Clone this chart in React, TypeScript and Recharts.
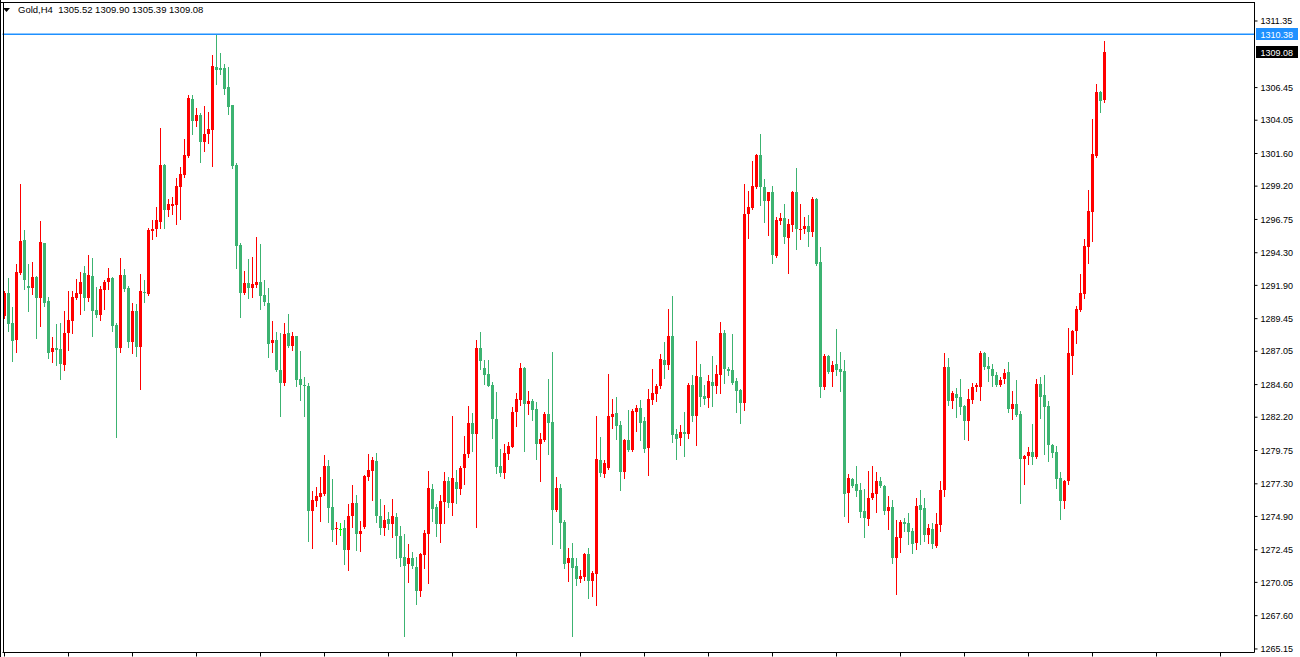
import React from 'react';
import { ComposedChart, Bar, XAxis, YAxis, ReferenceLine } from 'recharts';

const SYMBOL = 'Gold,H4';

const OPEN = [
1289.65,1291.33,1289.13,1287.87,1292.79,1295.23,1291.85,1291.73,1292.51,1290.99,
1295.00,1290.74,1286.99,1287.30,1287.22,1286.07,1288.36,1289.27,1290.94,1291.25,
1292.79,1290.96,1292.59,1290.08,1289.73,1291.56,1292.14,1292.45,1289.02,1287.30,
1292.65,1291.73,1287.73,1290.02,1287.36,1291.42,1291.25,1295.92,1296.06,1296.58,
1300.75,1297.41,1297.75,1297.81,1299.15,1300.04,1301.41,1305.62,1303.99,1304.44,
1302.44,1303.01,1303.33,1307.97,1307.91,1307.91,1306.48,1305.16,1300.75,1294.86,
1291.36,1292.08,1291.73,1291.94,1292.14,1291.19,1290.59,1287.65,1287.87,1285.67,
1284.75,1288.39,1287.47,1288.16,1285.01,1284.58,1284.52,1275.33,1276.04,1276.36,
1276.56,1278.60,1275.59,1273.96,1274.01,1274.04,1272.41,1274.90,1275.87,1273.61,
1274.13,1277.83,1278.26,1279.00,1274.93,1274.07,1274.70,1274.33,1274.87,1273.47,
1271.90,1271.41,1271.84,1271.18,1269.44,1272.07,1273.61,1276.90,1275.59,1274.36,
1275.99,1277.54,1275.90,1277.42,1276.93,1278.43,1279.46,1281.77,1281.00,1287.30,
1285.81,1285.38,1284.55,1282.09,1278.60,1278.11,1279.51,1280.03,1282.55,1283.49,
1285.81,1283.15,1283.41,1282.77,1280.26,1280.52,1282.43,1281.83,1275.36,1276.99,
1274.50,1271.47,1271.84,1271.24,1270.32,1270.47,1272.13,1270.18,1270.69,1279.06,
1278.00,1278.49,1282.23,1282.52,1281.63,1278.20,1280.52,1279.77,1282.60,1282.86,
1281.92,1279.97,1283.49,1283.92,1284.46,1286.41,1286.07,1288.16,1280.97,1280.69,
1281.12,1281.00,1284.55,1282.32,1285.15,1283.75,1283.63,1284.78,1284.52,1285.33,
1288.39,1285.78,1285.67,1284.86,1284.20,1283.26,1297.12,1297.58,1299.10,1301.50,
1299.10,1298.12,1298.75,1294.06,1296.66,1296.86,1295.40,1296.32,1298.78,1296.01,
1296.04,1296.26,1295.86,1298.27,1293.60,1284.43,1286.70,1285.55,1286.10,1285.75,
1285.58,1276.64,1277.62,1277.25,1276.82,1275.27,1274.73,1276.27,1276.56,1277.54,
1277.16,1275.30,1275.59,1271.87,1273.33,1274.47,1274.41,1273.84,1272.96,1275.73,
1275.50,1273.56,1273.96,1272.75,1274.27,1276.85,1285.90,1283.41,1283.89,1283.69,
1283.03,1281.95,1283.46,1284.43,1284.43,1286.93,1285.95,1285.75,1285.29,1284.58,
1285.01,1285.52,1282.83,1283.17,1282.43,1279.14,1279.34,1279.63,1279.29,1284.63,
1283.83,1283.03,1280.17,1279.63,1277.71,1276.04,1277.51,1286.73,1288.56,1290.08,
1291.25,1294.75,1297.32,1301.39,1306.14,1305.52,
];

const HIGH = [
1291.51,1292.45,1290.31,1293.48,1299.35,1295.98,1293.48,1293.62,1292.60,1296.63,
1295.05,1291.05,1288.10,1289.05,1289.13,1290.02,1291.48,1291.48,1292.36,1292.88,
1293.31,1294.15,1293.91,1291.76,1291.85,1292.28,1293.17,1292.50,1289.16,1293.91,
1293.11,1291.85,1290.59,1290.53,1292.77,1292.28,1296.09,1296.72,1297.67,1303.47,
1300.84,1298.27,1298.41,1299.81,1300.61,1302.67,1305.91,1305.91,1304.96,1304.59,
1305.11,1304.65,1308.86,1310.37,1309.00,1308.20,1307.97,1305.20,1300.87,1295.00,
1292.97,1293.82,1293.97,1295.46,1294.95,1292.28,1291.70,1289.27,1288.47,1288.39,
1289.13,1289.79,1288.47,1288.20,1287.07,1285.15,1284.72,1276.76,1277.05,1277.80,
1279.43,1279.06,1277.65,1274.47,1274.41,1274.61,1275.85,1277.22,1276.50,1274.56,
1277.97,1279.49,1279.29,1279.60,1276.19,1275.76,1275.21,1276.19,1275.13,1274.19,
1273.59,1272.90,1272.27,1271.90,1272.24,1273.90,1278.26,1277.31,1275.79,1276.50,
1278.17,1277.83,1282.29,1278.32,1278.63,1280.80,1283.00,1282.52,1287.87,1288.47,
1286.41,1286.41,1284.78,1284.03,1279.86,1280.23,1280.37,1282.95,1283.97,1286.18,
1285.90,1284.12,1283.55,1283.32,1281.03,1282.57,1285.01,1286.99,1277.80,1277.28,
1274.61,1272.56,1272.93,1271.84,1270.95,1272.24,1272.56,1270.89,1282.29,1280.74,
1279.06,1285.38,1283.52,1283.69,1281.92,1280.63,1282.72,1282.80,1283.09,1283.46,
1282.20,1284.26,1285.75,1284.66,1286.84,1287.73,1290.19,1291.11,1281.32,1281.63,
1282.57,1284.72,1285.29,1287.82,1286.10,1284.55,1285.29,1286.70,1286.04,1289.19,
1288.62,1285.90,1288.33,1285.06,1284.29,1299.35,1298.84,1301.04,1301.55,1303.04,
1299.72,1298.80,1299.21,1296.92,1297.23,1297.90,1296.75,1298.84,1300.53,1297.90,
1296.92,1297.06,1298.41,1298.32,1294.72,1286.84,1286.75,1286.33,1288.70,1287.02,
1286.41,1278.03,1277.71,1278.60,1277.36,1276.90,1278.26,1278.60,1278.17,1277.80,
1277.22,1276.39,1276.10,1274.64,1274.64,1274.79,1275.13,1274.04,1276.25,1276.85,
1276.25,1274.33,1274.41,1275.13,1277.51,1286.93,1286.56,1284.15,1284.35,1285.01,
1283.12,1284.26,1284.72,1284.72,1287.07,1287.02,1286.61,1286.13,1285.52,1285.15,
1285.75,1286.27,1284.12,1284.92,1282.66,1279.43,1280.00,1281.69,1285.01,1285.15,
1285.29,1283.41,1280.23,1280.09,1278.17,1277.57,1288.76,1288.64,1290.39,1292.74,
1295.32,1298.92,1304.13,1306.71,1306.20,1309.90,
];

const LOW = [
1289.50,1288.56,1286.33,1286.99,1292.70,1291.65,1290.05,1291.28,1288.02,1288.90,
1290.39,1286.56,1286.27,1286.07,1285.01,1285.70,1287.13,1288.39,1290.91,1289.79,
1290.08,1290.74,1288.16,1289.56,1289.36,1290.16,1291.62,1288.56,1280.74,1286.99,
1291.45,1287.36,1286.93,1286.70,1284.29,1290.68,1291.20,1295.32,1295.52,1296.09,
1296.12,1297.00,1297.15,1296.41,1296.78,1299.87,1301.36,1303.07,1303.61,1300.98,
1301.79,1302.36,1300.67,1306.71,1307.45,1305.97,1304.53,1300.55,1293.20,1289.59,
1291.28,1290.99,1291.08,1291.79,1290.19,1290.42,1286.64,1287.02,1285.58,1282.32,
1284.58,1287.33,1287.16,1284.52,1283.49,1282.32,1273.10,1272.61,1275.67,1274.58,
1276.50,1274.50,1273.10,1272.90,1273.50,1271.41,1270.98,1274.13,1272.44,1272.38,
1274.07,1277.57,1276.13,1274.50,1273.61,1273.56,1273.99,1273.36,1271.81,1271.24,
1266.14,1270.06,1271.07,1268.49,1269.04,1271.07,1269.98,1274.56,1273.47,1273.04,
1274.44,1275.56,1275.01,1275.90,1276.56,1277.31,1279.29,1279.69,1274.13,1285.73,
1284.66,1284.49,1280.66,1278.11,1277.91,1277.74,1279.09,1279.98,1281.57,1283.12,
1279.74,1282.46,1282.03,1279.14,1277.54,1280.46,1279.51,1272.90,1275.30,1272.58,
1271.12,1270.18,1266.14,1269.89,1270.04,1270.21,1268.92,1269.06,1268.40,1277.89,
1277.83,1278.40,1281.43,1280.63,1276.87,1277.71,1279.71,1279.71,1281.20,1280.49,
1279.66,1277.97,1283.20,1283.41,1284.35,1285.09,1285.78,1280.40,1279.14,1280.12,
1279.37,1280.69,1281.95,1280.17,1283.03,1283.17,1282.98,1283.03,1284.00,1284.00,
1284.75,1285.33,1284.63,1282.60,1281.80,1282.75,1295.40,1297.52,1299.05,1297.84,
1296.58,1295.63,1293.51,1294.00,1296.38,1295.03,1292.82,1295.92,1294.60,1295.32,
1295.77,1294.81,1295.54,1293.40,1283.72,1284.29,1285.47,1284.52,1285.33,1284.15,
1274.96,1274.47,1277.05,1276.39,1274.84,1273.41,1274.30,1276.20,1275.24,1277.05,
1275.07,1273.96,1271.50,1269.21,1272.30,1273.81,1272.90,1272.24,1272.53,1272.90,
1273.10,1272.96,1272.58,1272.64,1273.84,1276.42,1283.09,1282.89,1282.23,1282.46,
1280.60,1280.49,1283.23,1284.15,1283.49,1285.78,1284.89,1284.49,1284.49,1284.49,
1284.72,1282.55,1282.06,1282.32,1275.90,1277.31,1278.77,1278.77,1279.20,1282.17,
1279.46,1279.00,1279.29,1277.02,1274.73,1275.53,1277.31,1285.41,1287.67,1289.99,
1290.96,1293.57,1295.20,1301.35,1304.68,1305.39,
];

const CLOSE = [
1291.33,1289.08,1287.84,1292.88,1295.18,1292.28,1291.73,1292.51,1290.99,1295.09,
1290.59,1286.96,1287.30,1287.16,1286.10,1288.39,1289.36,1291.05,1291.33,1292.14,
1290.96,1292.65,1290.02,1289.73,1291.62,1292.14,1292.45,1288.93,1287.30,1292.65,
1291.65,1287.73,1290.02,1287.36,1291.48,1291.33,1295.98,1296.04,1296.72,1300.75,
1297.44,1297.90,1297.90,1299.21,1300.10,1301.50,1305.68,1303.99,1304.44,1302.44,
1303.04,1303.42,1308.03,1307.74,1307.77,1306.34,1305.05,1300.67,1294.81,1291.36,
1292.08,1291.73,1292.00,1292.14,1291.13,1290.71,1287.62,1287.87,1285.70,1284.75,
1288.33,1287.47,1288.16,1284.95,1284.55,1284.46,1275.33,1276.10,1276.39,1276.62,
1278.60,1275.53,1273.93,1274.04,1274.01,1272.41,1274.93,1275.87,1273.61,1273.81,
1277.91,1278.32,1279.06,1274.90,1274.07,1274.61,1274.33,1274.93,1273.47,1271.81,
1271.27,1271.84,1271.24,1269.44,1272.13,1273.67,1276.99,1275.47,1274.36,1276.04,
1277.54,1275.90,1277.71,1276.90,1278.46,1279.49,1281.77,1281.00,1287.30,1286.30,
1285.33,1284.52,1282.06,1278.57,1278.06,1279.57,1280.09,1282.57,1283.52,1285.81,
1283.20,1283.38,1282.72,1280.26,1280.60,1282.43,1281.80,1275.39,1276.99,1274.44,
1271.41,1271.84,1271.12,1270.32,1270.52,1272.13,1270.18,1270.72,1279.11,1278.06,
1278.86,1282.29,1282.43,1281.57,1278.20,1280.52,1279.77,1282.66,1282.86,1281.80,
1279.89,1283.52,1283.97,1284.52,1286.47,1286.04,1288.16,1280.92,1280.63,1281.12,
1281.00,1284.55,1282.32,1285.24,1283.72,1283.55,1284.86,1284.52,1285.38,1288.39,
1285.78,1285.61,1284.75,1284.15,1283.26,1297.15,1297.64,1299.21,1301.50,1299.10,
1298.12,1298.75,1294.17,1296.72,1296.86,1295.49,1296.41,1298.78,1296.06,1296.04,
1296.26,1295.86,1298.27,1293.48,1284.41,1286.70,1285.55,1286.04,1285.67,1285.55,
1276.56,1277.71,1277.13,1276.76,1275.24,1274.76,1276.25,1276.62,1277.54,1277.16,
1275.30,1275.59,1271.87,1273.39,1274.47,1274.36,1273.79,1272.90,1275.67,1275.39,
1273.56,1274.04,1272.90,1274.33,1276.85,1285.90,1283.41,1283.97,1283.60,1282.98,
1281.95,1283.52,1284.41,1284.55,1286.93,1285.90,1285.78,1285.21,1284.58,1284.92,
1285.44,1282.83,1283.17,1282.37,1279.14,1279.37,1279.63,1279.29,1284.63,1283.72,
1282.98,1280.12,1279.57,1277.68,1276.04,1277.51,1286.93,1288.56,1290.16,1291.33,
1294.81,1297.38,1301.56,1306.14,1305.50,1309.08,
];

const TOTAL_SLOTS = 313;
const PRICE_TICKS = [1311.35, 1306.45, 1304.05, 1301.6, 1299.2, 1296.75, 1294.3, 1291.9, 1289.45,
  1287.05, 1284.6, 1282.2, 1279.75, 1277.3, 1274.9, 1272.45, 1270.05, 1267.6, 1265.15];
const TIME_TICKS = [0, 16, 32, 48, 64, 80, 96, 112, 128, 144, 160, 176, 192, 208, 224, 240, 256, 272, 288, 304];
const HLINE_PRICE = 1310.38;
const Y_DOMAIN = [1264.89, 1312.71];

const BULL = '#FF0000';
const BEAR = '#3CB371';
const DOJI = '#00FF00';
const FONT = '"Liberation Sans", Arial, sans-serif';

const data = Array.from({ length: TOTAL_SLOTS }, (_, i) =>
  i < OPEN.length ? { i, o: OPEN[i], h: HIGH[i], l: LOW[i], c: CLOSE[i] } : { i }
);

const last = OPEN.length - 1;

function Candle(props: any) {
  const { x, y, width, height, payload } = props;
  if (!payload || payload.o == null || !isFinite(y) || !isFinite(height)) return null;
  const { o, h, l, c } = payload;
  const top = Math.max(h, o, c);
  const bot = Math.min(l, o, c);
  const k = height / (top - bot);
  const py = (v: number) => y + (top - v) * k;
  const cx = Math.floor(x + width / 2);
  const color = c > o ? BULL : c < o ? BEAR : DOJI;
  const wy1 = Math.round(py(h));
  const wy2 = Math.round(py(l));
  const by1 = Math.round(py(Math.max(o, c)));
  const by2 = Math.round(py(Math.min(o, c)));
  return (
    <g shapeRendering="crispEdges">
      <rect x={cx} y={wy1} width={1} height={Math.max(1, wy2 - wy1 + 1)} fill={color} />
      <rect x={cx - 1} y={by1} width={3} height={Math.max(1, by2 - by1)} fill={color} />
    </g>
  );
}

const EmptyTick = () => <g />;

function PriceBox({ viewBox, value, bg }: any) {
  if (!viewBox) return null;
  const bx = viewBox.x + viewBox.width + 1;
  const by = Math.round(viewBox.y) - 6;
  return (
    <g>
      <rect x={bx} y={by} width={42} height={12} fill={bg} shapeRendering="crispEdges" />
      <text x={bx + 5} y={by + 9.5} fill="#fff" fontSize={9} fontFamily={FONT}>{value}</text>
    </g>
  );
}

export default function App() {
  const header = `${SYMBOL}  ${OPEN[last].toFixed(2)} ${HIGH[last].toFixed(2)} ${LOW[last].toFixed(2)} ${CLOSE[last].toFixed(2)}`;
  return (
    <div style={{ position: 'absolute', left: 0, top: 0, width: 1300, height: 657, background: '#fff', overflow: 'hidden' }}>
      <ComposedChart
        width={1300}
        height={657}
        data={data}
        margin={{ top: 2.5, right: 0, bottom: 0, left: 2.5 }}
      >
        <XAxis
          dataKey="i"
          type="category"
          ticks={TIME_TICKS}
          interval={0}
          height={4.5}
          tickSize={4}
          tick={EmptyTick}
          axisLine={{ stroke: '#000' }}
          tickLine={{ stroke: '#000' }}
        />
        <YAxis
          orientation="right"
          type="number"
          domain={Y_DOMAIN}
          allowDataOverflow
          ticks={PRICE_TICKS}
          interval={0}
          width={45.5}
          tickSize={3}
          tickMargin={3}
          axisLine={{ stroke: '#000' }}
          tickLine={{ stroke: '#000' }}
          tick={{ fill: '#000', fontSize: 9, fontFamily: FONT }}
          tickFormatter={(v: number) => v.toFixed(2)}
        />
        <Bar
          dataKey={(d: any) => (d.o == null ? null : [Math.min(d.l, d.o, d.c), Math.max(d.h, d.o, d.c)])}
          shape={Candle}
          isAnimationActive={false}
        />
        <ReferenceLine
          y={HLINE_PRICE}
          stroke="#1E90FF"
          strokeWidth={1.5}
          label={(p: any) => <PriceBox viewBox={p.viewBox} value={HLINE_PRICE.toFixed(2)} bg="#1E90FF" />}
        />
        <ReferenceLine
          y={CLOSE[last]}
          stroke="none"
          strokeOpacity={0}
          label={(p: any) => <PriceBox viewBox={p.viewBox} value={CLOSE[last].toFixed(2)} bg="#000" />}
        />
      </ComposedChart>
      <div style={{ position: 'absolute', left: 0, top: 0, width: 1, height: 657, background: '#000' }} />
      <div style={{ position: 'absolute', left: 3, top: 2, width: 1, height: 651, background: '#000' }} />
      <div style={{ position: 'absolute', left: 0, top: 2, width: 1255, height: 1, background: '#000' }} />
      <svg style={{ position: 'absolute', left: 0, top: 0 }} width={14} height={16}>
        <polygon points="3,8 10,8 6.5,12" fill="#000" />
      </svg>
      <div
        style={{
          position: 'absolute', left: 18, top: 4, fontFamily: FONT, fontSize: 9.5,
          whiteSpace: 'pre', color: '#000', lineHeight: '12px',
        }}
      >
        {header}
      </div>
    </div>
  );
}
